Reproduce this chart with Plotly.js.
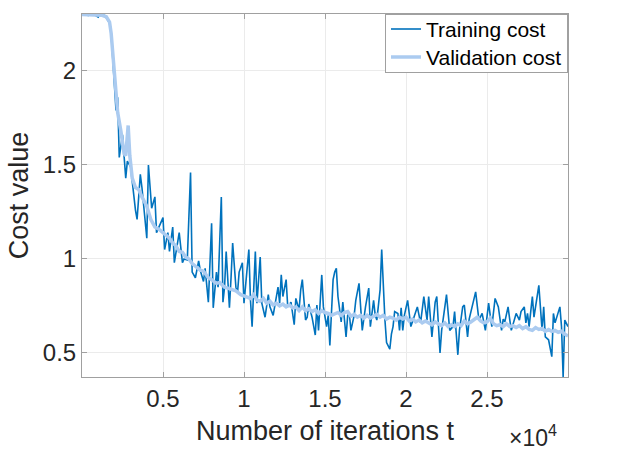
<!DOCTYPE html>
<html>
<head>
<meta charset="utf-8">
<script src="https://cdn.plot.ly/plotly-3.0.1.min.js"></script>
<style>html,body{margin:0;padding:0;background:#fff;}#chart{width:628px;height:455px;}</style>
</head>
<body>
<div id="chart"></div>
<script>
// Training cost samples (iteration, cost)
const trainIter = [0,200,400,600,800,1000,1100,1200,1400,1500,1600,1700,1800,1900,2000,2100,2200,2300,2500,2700,2800,3000,3300,3400,3600,3700,4000,4100,4300,4500,4600,4800,5000,5100,5300,5400,5600,5700,5900,6000,6200,6300,6500,6700,6800,7000,7200,7300,7500,7600,7800,8000,8100,8300,8400,8600,8700,8800,8900,9100,9200,9300,9500,9600,9700,9900,10000,10100,10300,10400,10500,10700,10800,11000,11100,11300,11500,11600,11800,12100,12200,12300,12400,12600,12700,12900,13000,13100,13200,13400,13500,13600,13800,13900,14000,14200,14400,14500,14600,14800,14900,15100,15200,15300,15500,15600,15700,15800,16000,16100,16300,16400,16500,16600,16800,16900,17100,17300,17500,17700,17800,18000,18100,18200,18400,18500,18700,18800,19000,19100,19200,19300,19500,19600,19700,19800,19900,20100,20300,20500,20700,20900,21100,21300,21400,21600,21800,21900,22100,22200,22300,22500,22700,22900,23000,23200,23300,23500,23600,23800,23900,24100,24300,24500,24700,24900,25100,25200,25300,25500,25700,25900,26000,26100,26300,26400,26500,26800,27000,27100,27300,27400,27500,27600,27800,27900,28100,28200,28400,28500,28600,28800,29000,29100,29200,29300,29500,29600,29700,29800,30000];
const trainCost = [2.301,2.298,2.296,2.300,2.297,2.286,2.300,2.299,2.295,2.283,2.270,2.255,2.200,2.070,1.950,1.790,1.860,1.540,1.660,1.430,1.520,1.490,1.260,1.210,1.450,1.380,1.110,1.500,1.270,1.330,1.140,1.180,1.220,1.050,1.140,1.040,1.170,0.980,1.080,1.140,0.980,1.000,0.995,1.460,0.930,0.900,0.990,0.940,0.880,0.950,0.770,1.190,0.740,0.930,0.850,1.330,0.770,0.850,1.040,0.740,0.900,1.085,0.850,0.820,0.930,0.980,0.765,0.850,1.050,0.780,0.640,1.040,0.765,1.010,0.765,0.690,0.810,0.745,0.700,0.850,0.765,0.915,0.800,0.890,0.745,0.770,0.720,0.650,0.790,0.730,0.835,0.890,0.675,0.690,0.760,0.690,0.595,0.755,0.620,0.915,0.745,0.640,0.700,0.540,0.890,0.930,0.950,0.800,0.665,0.770,0.585,0.700,0.710,0.620,0.700,0.780,0.870,0.620,0.745,0.845,0.640,0.780,0.700,0.675,0.835,1.050,0.675,0.555,0.520,0.600,0.640,0.720,0.710,0.620,0.740,0.620,0.700,0.780,0.640,0.690,0.745,0.660,0.800,0.675,0.800,0.585,0.770,0.800,0.500,0.620,0.690,0.810,0.620,0.640,0.720,0.490,0.620,0.745,0.755,0.585,0.680,0.755,0.825,0.675,0.710,0.620,0.765,0.700,0.640,0.790,0.745,0.620,0.680,0.665,0.745,0.680,0.620,0.710,0.675,0.720,0.745,0.660,0.710,0.640,0.800,0.690,0.810,0.860,0.620,0.745,0.585,0.570,0.480,0.710,0.660,0.690,0.745,0.640,0.372,0.675,0.640];

// Validation cost samples (iteration, cost)
const valIter = [0,300,600,900,1200,1500,1700,1800,1900,2000,2100,2200,2400,2500,2600,2700,2850,2950,3100,3300,3500,3700,3900,4000,4250,4500,4800,5000,5200,5400,5600,5800,6000,6200,6400,6600,6800,7000,7300,7500,7800,8000,8300,8500,8800,9000,9300,9500,9800,10100,10400,10600,10800,11000,11200,11400,11600,11800,12000,12200,12400,12600,12800,13000,13200,13400,13600,13800,14000,14200,14400,14600,14800,15000,15200,15400,15600,15800,16000,16200,16400,16600,16800,17000,17200,17400,17600,17800,18000,18200,18400,18600,18800,19000,19200,19400,19600,19800,20000,20200,20400,20600,20800,21000,21200,21400,21600,21800,22000,22200,22400,22600,22800,23000,23200,23400,23600,23800,24000,24200,24400,24600,24800,25000,25200,25400,25600,25800,26000,26200,26400,26600,26800,27000,27200,27400,27600,27800,28000,28200,28400,28600,28800,29000,29200,29400,29600,29800,30000];
const valCost = [2.300,2.299,2.301,2.298,2.297,2.288,2.260,2.200,2.080,1.960,1.860,1.780,1.680,1.620,1.560,1.550,1.710,1.550,1.430,1.380,1.370,1.330,1.300,1.280,1.210,1.170,1.155,1.140,1.120,1.110,1.085,1.070,1.040,1.035,1.010,1.000,0.975,0.960,0.940,0.935,0.900,0.890,0.870,0.875,0.850,0.845,0.835,0.830,0.810,0.800,0.790,0.810,0.780,0.775,0.790,0.765,0.775,0.755,0.765,0.750,0.760,0.745,0.755,0.740,0.745,0.725,0.745,0.725,0.735,0.720,0.730,0.710,0.725,0.715,0.710,0.700,0.710,0.715,0.700,0.715,0.720,0.695,0.705,0.690,0.700,0.685,0.700,0.685,0.695,0.705,0.690,0.700,0.680,0.690,0.685,0.675,0.690,0.680,0.690,0.670,0.680,0.665,0.675,0.660,0.670,0.660,0.650,0.665,0.655,0.645,0.660,0.640,0.650,0.640,0.655,0.645,0.670,0.655,0.665,0.675,0.690,0.670,0.660,0.665,0.685,0.655,0.645,0.650,0.640,0.655,0.640,0.645,0.635,0.645,0.630,0.640,0.625,0.620,0.635,0.625,0.630,0.615,0.625,0.615,0.620,0.610,0.615,0.600,0.590];

// Axis ticks
const xTickVals = [5000,10000,15000,20000,25000];
const xTickText = ['0.5','1','1.5','2','2.5'];
const yTickVals = [0.5,1,1.5,2];
const yTickText = ['0.5','1','1.5','2'];

const FONT = 'Liberation Sans, Arial, Helvetica, sans-serif';
const AXC = '#a0a0a0';
const TXT = '#262626';

const traces = [
  {x: trainIter, y: trainCost, type: 'scatter', mode: 'lines', name: 'Training cost',
   line: {color: '#0072bd', width: 1.6}},
  {x: valIter, y: valCost, type: 'scatter', mode: 'lines', name: 'Validation cost',
   line: {color: '#abcbf0', width: 3.5}}
];

const layout = {
  width: 628, height: 455,
  margin: {l: 82, r: 60, t: 14, b: 78, pad: 0},
  paper_bgcolor: '#ffffff', plot_bgcolor: '#ffffff',
  font: {family: FONT, color: TXT},
  showlegend: true,
  xaxis: {
    range: [0, 30000], tickvals: xTickVals, ticktext: xTickText,
    ticks: 'inside', ticklen: 5, tickcolor: AXC, tickwidth: 1,
    showline: true, linecolor: AXC, linewidth: 1, mirror: 'ticks',
    showgrid: true, gridcolor: '#ebebeb', gridwidth: 1, zeroline: false,
    tickfont: {size: 24, color: TXT, family: FONT},
    title: {text: 'Number of iterations t', font: {size: 27, color: TXT, family: FONT}, standoff: 10},
    automargin: false
  },
  yaxis: {
    range: [0.372, 2.303], tickvals: yTickVals, ticktext: yTickText,
    ticks: 'inside', ticklen: 5, tickcolor: AXC, tickwidth: 1,
    showline: true, linecolor: AXC, linewidth: 1, mirror: 'ticks',
    showgrid: true, gridcolor: '#ebebeb', gridwidth: 1, zeroline: false,
    tickfont: {size: 24, color: TXT, family: FONT},
    title: {text: 'Cost value', font: {size: 27, color: TXT, family: FONT}, standoff: 6},
    automargin: false
  },
  legend: {
    x: 1, xanchor: 'right', y: 1, yanchor: 'top',
    bgcolor: '#ffffff', bordercolor: AXC, borderwidth: 1,
    font: {size: 21, color: '#000000', family: FONT},
    itemwidth: 30, tracegroupgap: 0
  },
  annotations: [
    {text: '×10<sup>4</sup>', xref: 'paper', yref: 'paper', x: 0.981, y: -0.163,
     xanchor: 'right', yanchor: 'middle', showarrow: false,
     font: {size: 23, color: TXT, family: FONT}}
  ]
};

Plotly.newPlot('chart', traces, layout, {displayModeBar: false, staticPlot: true}).then(function(gd) {
  // tighten legend rows to match the compact reference legend
  var leg = gd.querySelector('.legend');
  if (!leg) return;
  var items = leg.querySelectorAll('.traces');
  var rowH = 28;
  items.forEach(function(g, i) {
    var m = /translate\(\s*([-\d.]+)[ ,]+([-\d.]+)\s*\)/.exec(g.getAttribute('transform') || '');
    var tx = m ? parseFloat(m[1]) : 0;
    g.setAttribute('transform', 'translate(' + tx + ',' + (1 + rowH / 2 + i * rowH) + ')');
  });
  var bg = leg.querySelector('rect.bg');
  if (bg) bg.setAttribute('height', rowH * items.length + 2);
});
</script>
</body>
</html>
